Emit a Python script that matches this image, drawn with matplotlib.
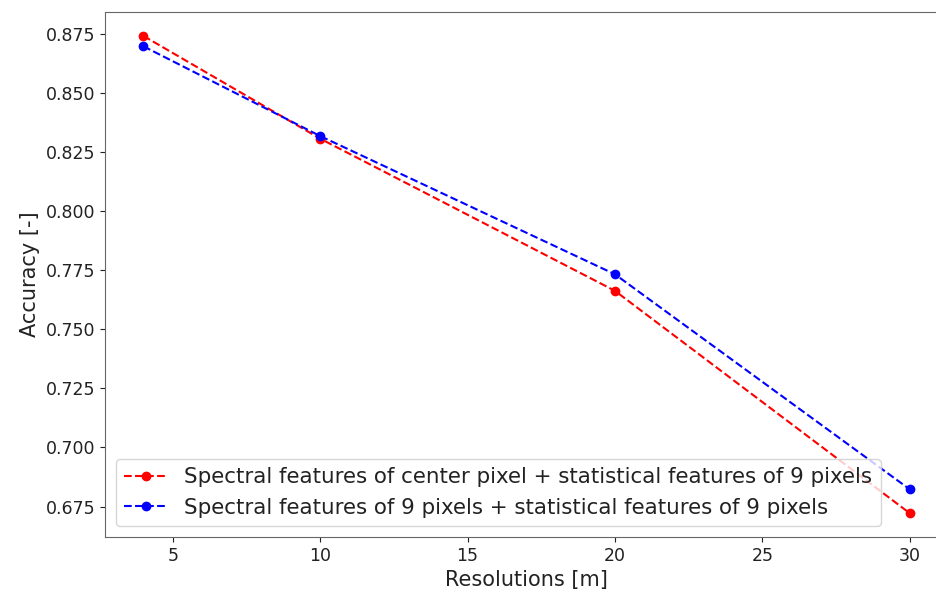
import matplotlib
matplotlib.use("Agg")
import matplotlib.pyplot as plt

resolutions = [4, 10, 20, 30]
acc_center = [0.8742, 0.8307, 0.7663, 0.6722]
acc_nine = [0.8698, 0.8318, 0.7733, 0.6823]
label_center = "Spectral features of center pixel + statistical features of 9 pixels"
label_nine = "Spectral features of 9 pixels + statistical features of 9 pixels"

fig = plt.figure(figsize=(9.36, 5.92), dpi=100)
ax = fig.add_axes([0.1122, 0.0929, 0.9006, 0.8868])
ax.plot(resolutions, acc_center, "o--", color="red", label=label_center, markersize=6)
ax.plot(resolutions, acc_nine, "o--", color="blue", label=label_nine, markersize=6)
ax.set_xlim(2.7, 31.3)
ax.set_xticks([5, 10, 15, 20, 25, 30])
ax.set_yticks([0.675, 0.700, 0.725, 0.750, 0.775, 0.800, 0.825, 0.850, 0.875])
for s in ax.spines.values():
    s.set_color("#666666")
ax.tick_params(labelsize=12.5, colors="#222222", labelcolor="#222222")
ax.set_xlabel("Resolutions [m]", fontsize=15, color="#222222")
ax.set_ylabel("Accuracy [-]", fontsize=15, color="#222222")
leg = ax.legend(loc="lower left", fontsize=15.4)
for t in leg.get_texts():
    t.set_color("#222222")
fig.savefig("out.png", dpi=100)
